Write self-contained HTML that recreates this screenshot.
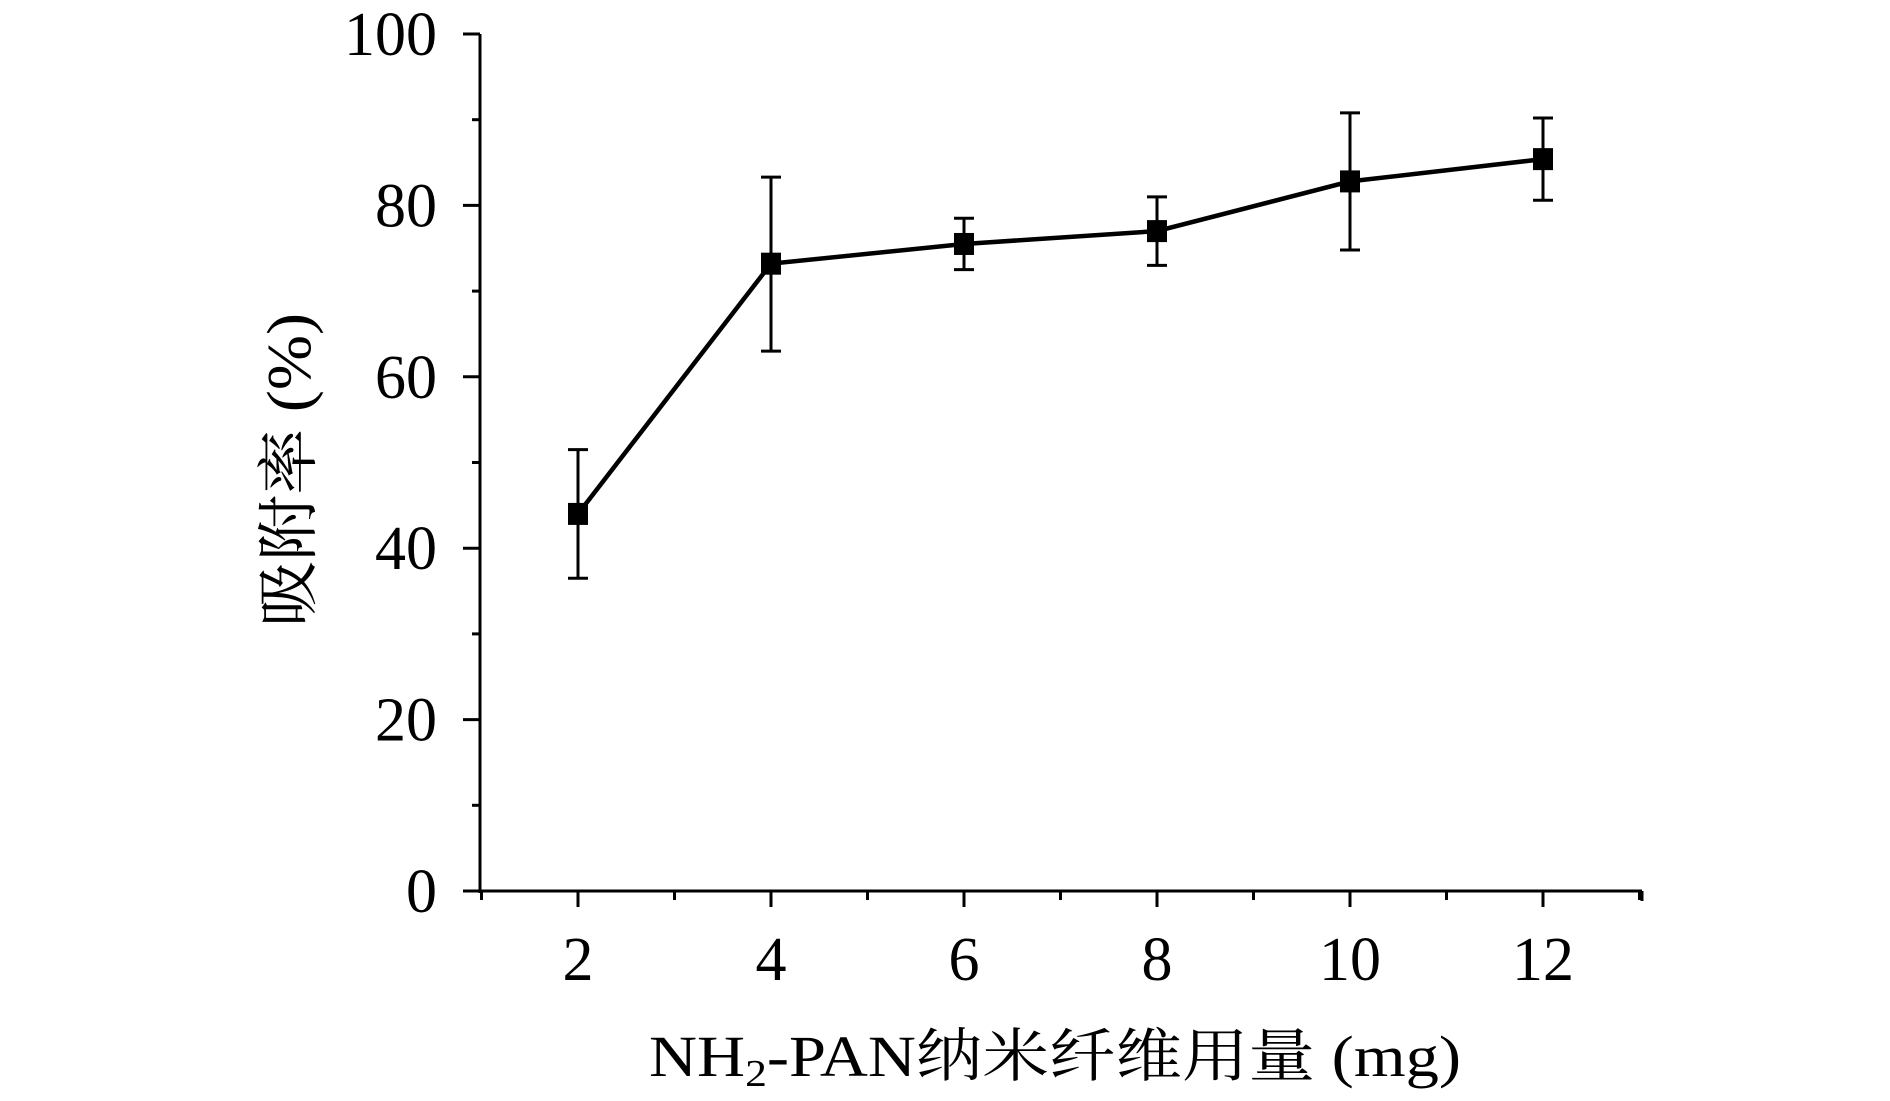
<!DOCTYPE html>
<html><head><meta charset="utf-8">
<style>
html,body{margin:0;padding:0;background:#fff;}
svg{display:block;}
text{font-family:"Liberation Serif","Noto Serif CJK SC",serif;fill:#000;}
</style></head>
<body>
<svg id="chart" width="1890" height="1101" viewBox="0 0 1890 1101" xmlns="http://www.w3.org/2000/svg">
<g id="axes"></g>
<g id="series"></g>
<text transform="translate(310,470) rotate(-90)" text-anchor="middle" font-size="62" textLength="314" lengthAdjust="spacingAndGlyphs">吸附率 (%)</text>
<text x="1055" y="1076" text-anchor="middle" font-size="58" textLength="812" lengthAdjust="spacingAndGlyphs">NH<tspan font-size="38" dy="10">2</tspan><tspan dy="-10">-PAN纳米纤维用量 (mg)</tspan></text>
</svg>
<script>
const categories = [2, 4, 6, 8, 10, 12];
const values = [44, 73.2, 75.5, 77, 82.8, 85.4];
const errLow = [36.5, 63, 72.5, 73, 74.8, 80.6];
const errHigh = [51.5, 83.3, 78.5, 81, 90.8, 90.2];
const yTicks = [0, 20, 40, 60, 80, 100];
const yMinor = [10, 30, 50, 70, 90];
const xTicks = [2, 4, 6, 8, 10, 12];
const xMinor = [1, 3, 5, 7, 9, 11, 13];

const NS = 'http://www.w3.org/2000/svg';
const X0 = 480, X1 = 1642, Y0 = 891, Y1 = 34;
const xs = v => 578 + (v - 2) * (1543 - 578) / 10;
const ys = v => Y0 - v * (Y0 - Y1) / 100;
function mk(tag, attrs, parent){const e=document.createElementNS(NS,tag);for(const k in attrs)e.setAttribute(k,attrs[k]);parent.appendChild(e);return e;}
const axes=document.getElementById('axes'), series=document.getElementById('series');

let yl=mk('line',{x1:X0,y1:Y1,x2:X0,y2:Y0+2,stroke:'#000','stroke-width':3},axes);


let xl=mk('line',{x1:463,y1:Y0,x2:X1,y2:Y0,stroke:'#000','stroke-width':3},axes);


let re=mk('line',{x1:X1,y1:Y0,x2:X1,y2:Y0+10,stroke:'#000','stroke-width':3},axes);



yTicks.forEach(v=>{
  const y=ys(v);
  let t=mk('line',{x1:X0-17,y1:y,x2:X0,y2:y,stroke:'#000','stroke-width':3},axes);
  
  
  let l=mk('text',{x:437,y:y+21,'text-anchor':'end','font-size':62},axes);
  l.textContent=v;
  
  
});
yMinor.forEach(v=>{
  const y=ys(v);
  let t=mk('line',{x1:X0-8,y1:y,x2:X0,y2:y,stroke:'#000','stroke-width':3},axes);
  
  
});
xTicks.forEach(v=>{
  const x=xs(v);
  let t=mk('line',{x1:x,y1:Y0,x2:x,y2:Y0+16,stroke:'#000','stroke-width':3},axes);
  
  
  let l=mk('text',{x:x,y:980,'text-anchor':'middle','font-size':62},axes);
  l.textContent=v;
  
  
});
xMinor.forEach(v=>{
  const x=xs(v);
  let t=mk('line',{x1:x,y1:Y0,x2:x,y2:Y0+9,stroke:'#000','stroke-width':3},axes);
  
  
});

let pts=categories.map((c,i)=>xs(c)+','+ys(values[i])).join(' ');
let pl=mk('polyline',{points:pts,fill:'none',stroke:'#000','stroke-width':4.5},series);



categories.forEach((c,i)=>{
  const x=xs(c);
  let e=mk('line',{x1:x,y1:ys(errLow[i]),x2:x,y2:ys(errHigh[i]),stroke:'#000','stroke-width':3},series);
  
  
  [errLow[i],errHigh[i]].forEach(v=>{
    let cap=mk('line',{x1:x-10,y1:ys(v),x2:x+10,y2:ys(v),stroke:'#000','stroke-width':3},series);
    
    
  });
  let m=mk('rect',{x:x-10,y:ys(values[i])-11,width:20,height:22,fill:'#000'},series);
  
  
});
</script>
</body></html>
